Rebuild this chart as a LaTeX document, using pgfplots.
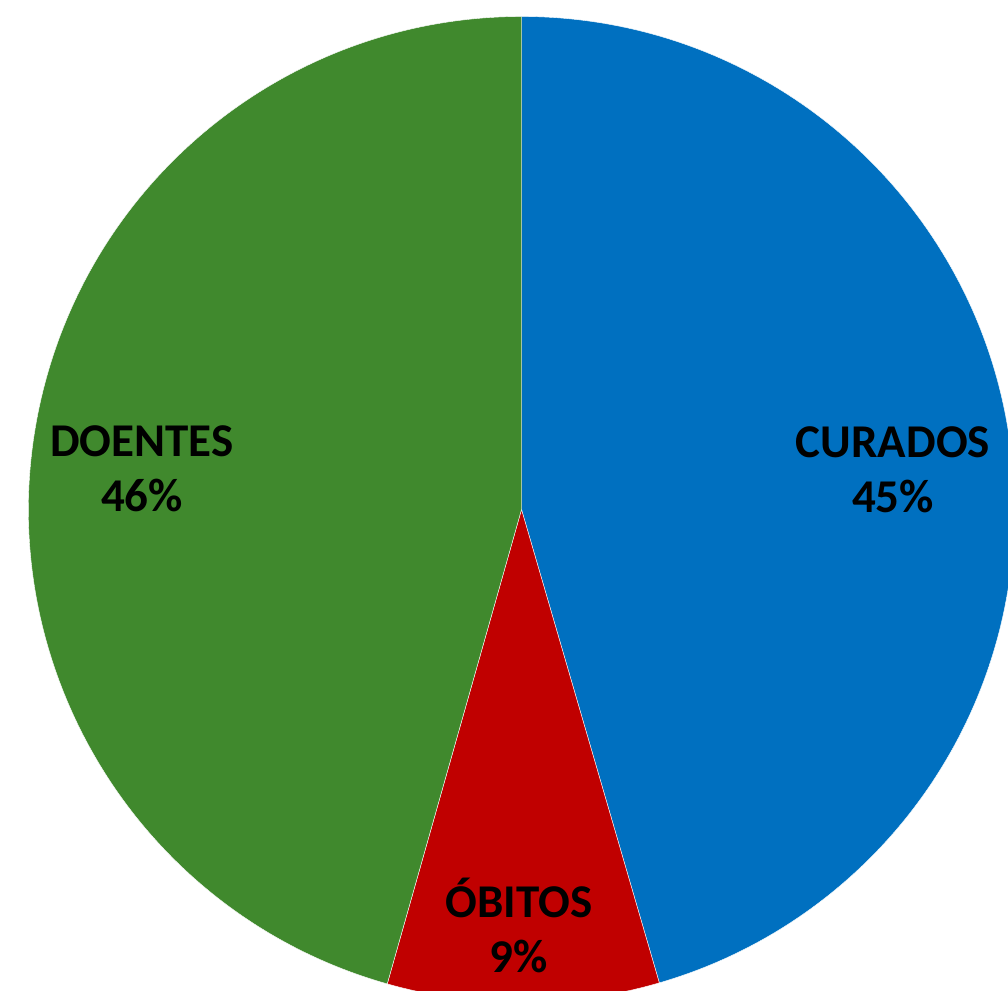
\documentclass[border=0pt]{standalone}
\usepackage{pgfplots}
\usepackage{pgfplotstable}
\pgfplotsset{compat=1.18}
\usepackage{fontspec}
\setmainfont{Carlito}

\definecolor{pie0}{RGB}{0,112,192}
\definecolor{pie1}{RGB}{192,0,0}
\definecolor{pie2}{RGB}{64,137,45}

% slices clockwise from 12 o'clock; lx/ly = label position (pixels, y down)
\pgfplotstableread{
name     value lx  ly
CURADOS  45.49 893 457
ÓBITOS   8.9   519 917
DOENTES  45.61 142 456
}\piedata

\def\cx{521.5}
\def\cy{509.5}
\def\rad{493pt}

\begin{document}
\begin{tikzpicture}
\def\curang{90}
\pgfplotsforeachungrouped \i in {0,1,2}{%
  \pgfplotstablegetelem{\i}{value}\of\piedata
  \let\val\pgfplotsretval
  \pgfmathsetmacro\endang{\curang-3.6*\val}
  \expandafter\xdef\csname sa\i\endcsname{\curang}
  \expandafter\xdef\csname ea\i\endcsname{\endang}
  \pgfmathtruncatemacro\pct{round(\val)}
  \expandafter\xdef\csname pc\i\endcsname{\pct}
  \pgfplotstablegetelem{\i}{name}\of\piedata
  \expandafter\xdef\csname nm\i\endcsname{\pgfplotsretval}
  \pgfplotstablegetelem{\i}{lx}\of\piedata
  \expandafter\xdef\csname lx\i\endcsname{\pgfplotsretval}
  \pgfplotstablegetelem{\i}{ly}\of\piedata
  \expandafter\xdef\csname ly\i\endcsname{\pgfplotsretval}
  \pgfmathsetmacro\lyb{\pgfplotsretval+55}
  \expandafter\xdef\csname lyb\i\endcsname{\lyb}
  \xdef\curang{\endang}
}
\begin{axis}[
  hide axis,
  scale only axis,
  width=1008pt, height=990pt,
  xmin=0, xmax=1008,
  ymin=0, ymax=990,
  y dir=reverse,
  clip=true,
  ]
\pgfplotsinvokeforeach{0,1,2}{
  \fill[pie#1, draw=white, line width=0.4pt]
    (axis cs:\cx,\cy) -- ++(\csname sa#1\endcsname:\rad)
    arc[start angle=\csname sa#1\endcsname, end angle=\csname ea#1\endcsname, radius=\rad] -- cycle;
}
\pgfplotsinvokeforeach{0,1,2}{
  \node[anchor=base, font=\bfseries\fontsize{47}{55}\selectfont, inner sep=0pt]
    at (axis cs:\csname lx#1\endcsname,\csname ly#1\endcsname) {\csname nm#1\endcsname};
  \node[anchor=base, font=\bfseries\fontsize{47}{55}\selectfont, inner sep=0pt]
    at (axis cs:\csname lx#1\endcsname,\csname lyb#1\endcsname) {\csname pc#1\endcsname\%};
}
\end{axis}
\pgfresetboundingbox
\useasboundingbox (current axis.south west) rectangle (current axis.north east);
\end{tikzpicture}
\end{document}
